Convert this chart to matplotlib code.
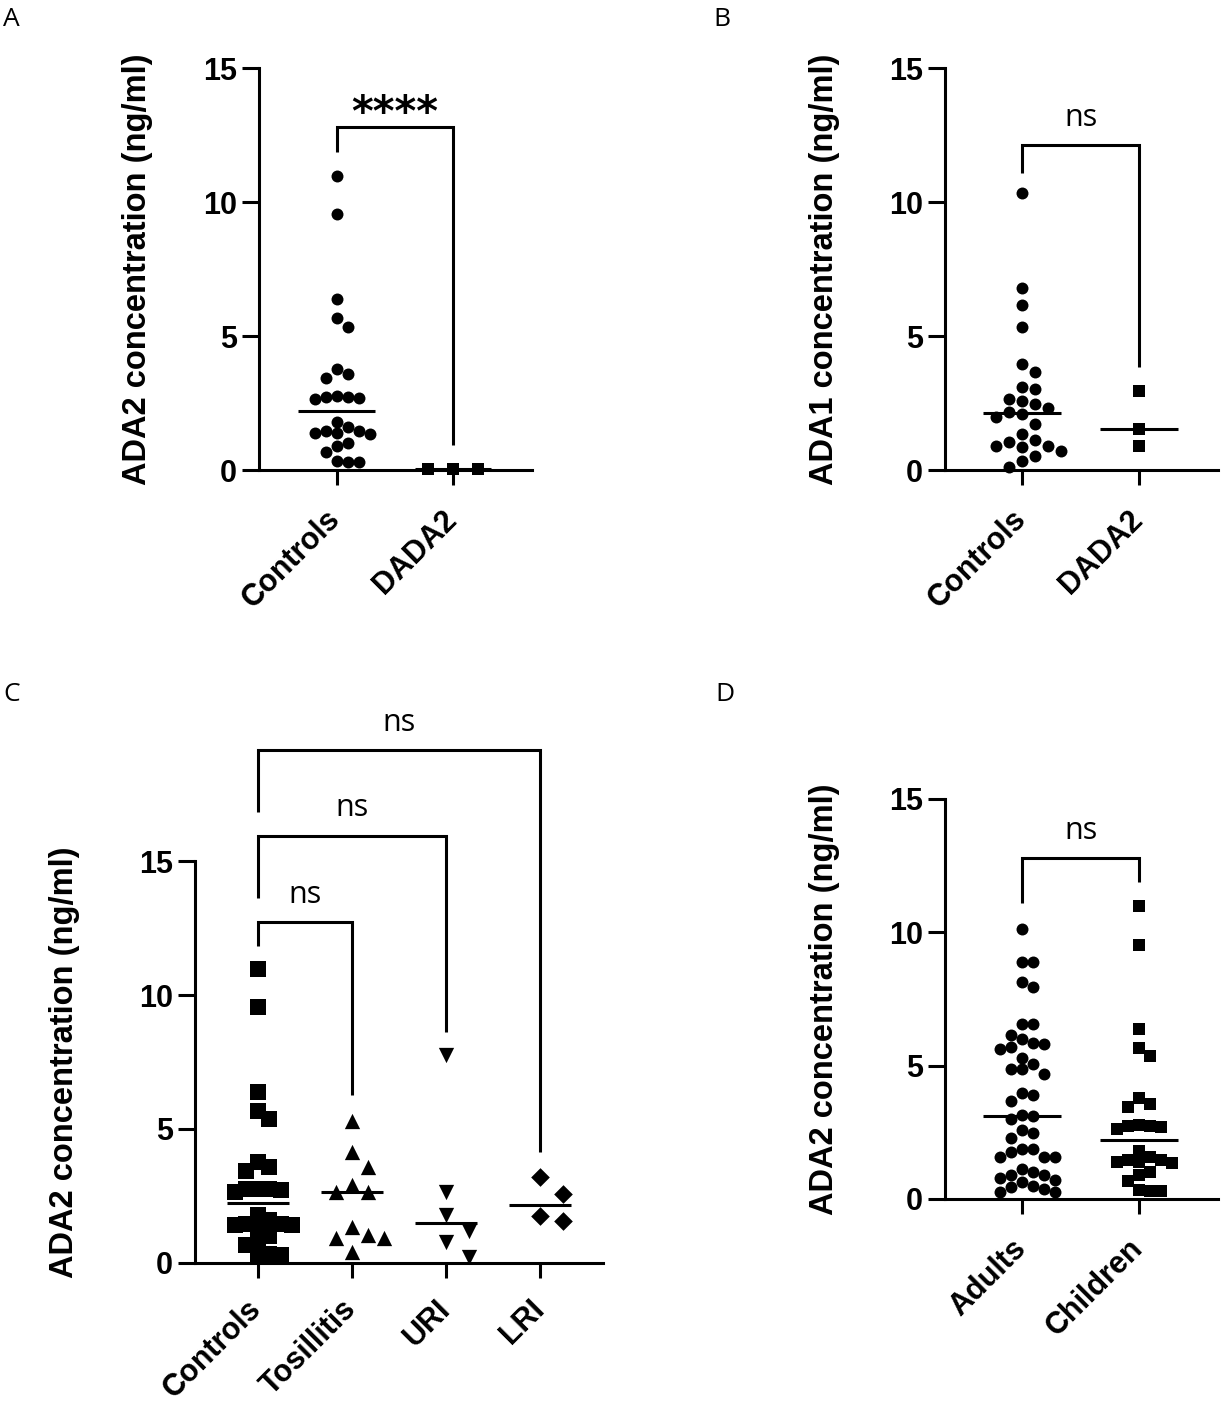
import numpy as np
import matplotlib
matplotlib.use("Agg")
import matplotlib.pyplot as plt
from matplotlib.transforms import ScaledTranslation

plt.rcParams['font.family'] = ['Liberation Sans', 'DejaVu Sans']
plt.rcParams['font.weight'] = 'bold'

# ---- data (ng/ml) ----
controls_ada2 = [10.97, 9.54, 6.37, 5.66, 5.35, 3.77, 3.57, 3.44, 2.77, 2.74, 2.74, 2.70, 2.64,
                 1.80, 1.59, 1.46, 1.46, 1.39, 1.39, 1.34, 1.00, 0.91, 0.66, 0.34, 0.31, 0.29]
dada2_ada2 = [0.04, 0.04, 0.04]

controls_ada1 = [10.32, 6.78, 6.16, 5.35, 3.94, 3.65, 3.11, 3.01, 2.65, 2.59, 2.45, 2.32, 2.15,
                 2.09, 1.99, 1.72, 1.34, 1.12, 1.03, 0.90, 0.90, 0.85, 0.72, 0.53, 0.34, 0.12]
dada2_ada1 = [2.96, 1.52, 0.90]

tonsillitis = [5.30, 4.14, 3.58, 2.90, 2.65, 2.63, 1.32, 1.03, 0.93, 0.93, 0.41]
uri = [7.75, 2.63, 1.78, 1.19, 0.78, 0.20]
lri = [3.21, 2.56, 1.76, 1.56]

adults = [10.14, 8.89, 8.89, 8.14, 7.95, 6.56, 6.56, 6.16, 6.00, 5.85, 5.81, 5.71, 5.62, 5.30,
          5.07, 4.86, 4.86, 4.70, 3.99, 3.90, 3.69, 3.15, 3.11, 2.99, 2.59, 2.49, 2.30, 1.86,
          1.86, 1.77, 1.58, 1.58, 1.58, 1.11, 1.02, 0.90, 0.90, 0.77, 0.71, 0.65, 0.49, 0.46,
          0.37, 0.27, 0.27]
children = controls_ada2

cats_ab = ['Controls', 'DADA2']
cats_c = ['Controls', 'Tosillitis', 'URI', 'LRI']
cats_d = ['Adults', 'Children']
ylabel_ada2 = 'ADA2 concentration (ng/ml)'
ylabel_ada1 = 'ADA1 concentration (ng/ml)'

W, H = 1224, 1404
fig = plt.figure(figsize=(W / 100, H / 100), dpi=100)


def make_axes(left, right, y0, y15):
    # pixel positions -> figure fraction
    ax = fig.add_axes([left / W, 1 - y0 / H, (right - left) / W, (y0 - y15) / H])
    return ax


def px_scale(ax):
    p0 = ax.transData.transform((0, 0))
    p1 = ax.transData.transform((1, 1))
    return p1[0] - p0[0], p1[1] - p0[1]


def swarm(ax, values, step):
    # simple beeswarm: offsets in multiples of step (pixels)
    sx, sy = px_scale(ax)
    vals = np.asarray(values, dtype=float)
    order = np.argsort(-vals, kind='stable')
    cands = [0]
    for k in range(1, 30):
        cands += [k, -k]
    placed = []
    off = np.zeros(len(vals))
    for i in order:
        y = vals[i] * sy
        for k in cands:
            x = k * step
            if all((x - px) ** 2 + (y - py) ** 2 >= (0.98 * step) ** 2 for px, py in placed):
                break
        placed.append((x, y))
        off[i] = x / sx
    return off


def style(ax, cats, xlim, label, label_x, pad=14):
    ax.set_xlim(*xlim)
    ax.set_ylim(0, 15)
    ax.set_yticks([0, 5, 10, 15])
    ax.set_xticks(range(len(cats)))
    ax.spines[['top', 'right']].set_visible(False)
    for s in ['left', 'bottom']:
        ax.spines[s].set_linewidth(2.2)
    ax.spines['left'].set_bounds(0, 15)
    ax.tick_params(axis='y', length=12.2, width=2.2, pad=3.5, labelsize=22)
    ax.tick_params(axis='x', length=10.8, width=2.2, pad=pad, labelsize=22)
    ax.set_xticklabels(cats, rotation=45, ha='right', va='top', rotation_mode='anchor')
    # nudge the slanted labels to the left (after tick_params, which resets transforms)
    shift = ScaledTranslation(-11 / 100, 0, fig.dpi_scale_trans)
    for t in ax.get_xticklabels():
        t.set_transform(t.get_transform() + shift)
    ax.set_ylabel(label, fontsize=23.5, fontweight='bold')
    ax.yaxis.set_label_coords(label_x, 0.5)
    ax.patch.set_visible(False)


def group(ax, i, values, marker, ms, step):
    off = swarm(ax, values, step)
    ax.scatter(i + off, values, marker=marker, s=ms ** 2, color='black', linewidths=0,
               zorder=3, clip_on=False)
    med = np.median(values)
    ax.plot([i - 0.33, i + 0.33], [med, med], color='black', lw=2.2, zorder=4,
            solid_capstyle='butt')


def bracket(ax, x1, x2, y_top, y_left, y_right, text, dy=0.72, bold=False):
    ax.plot([x1, x1, x2, x2], [y_left, y_top, y_top, y_right], color='black', lw=2.2,
            clip_on=False, solid_joinstyle='miter', solid_capstyle='butt')
    if bold:
        ax.text((x1 + x2) / 2, y_top + dy, text, ha='center', va='baseline', fontsize=30,
                fontweight='bold', family='DejaVu Sans')
    else:
        ax.text((x1 + x2) / 2, y_top + dy, text, ha='center', va='baseline', fontsize=22,
                fontweight='normal', family='Open Sans')


# ---- A ----
axA = make_axes(259, 532, 470, 68)
style(axA, cats_ab, (-0.668, 1.68), ylabel_ada2, -0.388)
group(axA, 0, controls_ada2, 'o', 8.6, 11)
group(axA, 1, dada2_ada2, 's', 8.6, 25)
bracket(axA, 0, 1, 12.8, 11.87, 0.93, '****', dy=0.05, bold=True)

# ---- B ----
axB = make_axes(945, 1218, 470, 68)
style(axB, cats_ab, (-0.658, 1.675), ylabel_ada1, -0.385)
group(axB, 0, controls_ada1, 'o', 8.6, 13)
group(axB, 1, dada2_ada1, 's', 8.6, 13)
bracket(axB, 0, 1, 12.13, 11.08, 3.85, 'ns')

# ---- C ----
axC = make_axes(195, 603, 1262.7, 861.2)
style(axC, cats_c, (-0.666, 3.67), ylabel_ada2, -0.282, pad=12)
group(axC, 0, controls_ada2, 's', 11, 11.5)
group(axC, 1, tonsillitis, '^', 11, 16)
group(axC, 2, uri, 'v', 11, 23)
group(axC, 3, lri, 'D', 9.5, 23)
bracket(axC, 0, 1, 12.72, 11.84, 6.26, 'ns')
bracket(axC, 0, 2, 15.95, 13.61, 8.63, 'ns')
bracket(axC, 0, 3, 19.15, 16.85, 4.15, 'ns')

# ---- D ----
axD = make_axes(945, 1218, 1199, 799)
style(axD, cats_d, (-0.658, 1.675), ylabel_ada2, -0.385)
group(axD, 0, adults, 'o', 8.6, 11)
group(axD, 1, children, 's', 8.6, 11)
bracket(axD, 0, 1, 12.77, 11.09, 11.9, 'ns')

# panel letters
for letter, x, y in [('A', 3, 7), ('B', 713, 7), ('C', 3, 682), ('D', 715, 682)]:
    fig.text(x / W, 1 - y / H, letter, fontsize=19, fontweight='normal', family='Open Sans',
             va='top', ha='left')

fig.savefig('out.png', dpi=100)
